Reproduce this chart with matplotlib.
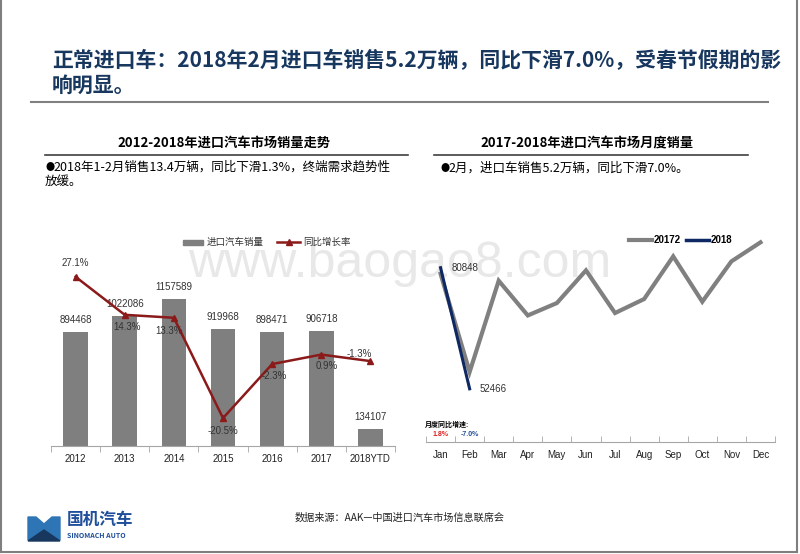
import matplotlib
matplotlib.use("Agg")
import matplotlib.pyplot as plt
from matplotlib.patches import Polygon, Rectangle
from matplotlib.lines import Line2D

plt.rcParams['font.family'] = ['Noto Sans CJK SC', 'DejaVu Sans']

# ---- data ----
years = ['2012', '2013', '2014', '2015', '2016', '2017', '2018YTD']
sales = [894468, 1022086, 1157589, 919968, 898471, 906718, 134107]
growth = [27.1, 14.3, 13.3, -20.5, -2.3, 0.9, -1.3]

months = ['Jan', 'Feb', 'Mar', 'Apr', 'May', 'Jun', 'Jul', 'Aug', 'Sep', 'Oct', 'Nov', 'Dec']
m2017 = [79418, 56415, 77800, 69660, 72570, 80220, 70230, 73510, 83500, 72880, 82330, 86790]
m2018 = [80848, 52466]
m_yoy = ['1.8%', '-7.0%']

W, H = 800, 554
fig = plt.figure(figsize=(8, 5.54), dpi=100)
fig.patch.set_facecolor('white')


def fx(x):
    return x / W


def fy(y):
    return 1 - y / H


def box(x0, y0, x1, y1):
    return [fx(x0), fy(y1), (x1 - x0) / W, (y1 - y0) / H]


navy = '#17375E'
num_font = ['Liberation Sans', 'Noto Sans CJK SC']

# slide frame
for xs, ys in [((1, 1), (0, 552)), ((797, 797), (0, 552)), ((1, 797), (552, 552))]:
    fig.add_artist(Line2D([fx(v) for v in xs], [fy(v) for v in ys], color='#7F7F7F', lw=1.5))

# headline
fig.text(fx(52), fy(61), '正常进口车：2018年2月进口车销售5.2万辆，同比下滑7.0%，受春节假期的影',
         fontsize=15, fontweight='bold', color=navy, va='center', ha='left')
fig.text(fx(52), fy(85), '响明显。', fontsize=15, fontweight='bold', color=navy, va='center', ha='left')
fig.add_artist(Line2D([fx(31), fx(768)], [fy(102), fy(102)], color='#808080', lw=1.5))

# section headers
fig.text(fx(224), fy(143), '2012-2018年进口汽车市场销量走势', fontsize=9.5, fontweight='bold',
         ha='center', va='center')
fig.add_artist(Line2D([fx(45), fx(408)], [fy(155), fy(155)], color='#404040', lw=1.2))
fig.text(fx(45), fy(167), '●', fontsize=6.5, ha='left', va='center')
fig.text(fx(53), fy(167), '2018年1-2月销售13.4万辆，同比下滑1.3%，终端需求趋势性',
         fontsize=9, ha='left', va='center')
fig.text(fx(45), fy(181), '放缓。', fontsize=9, ha='left', va='center')

fig.text(fx(587), fy(143), '2017-2018年进口汽车市场月度销量', fontsize=9.5, fontweight='bold',
         ha='center', va='center')
fig.add_artist(Line2D([fx(434), fx(748)], [fy(155), fy(155)], color='#404040', lw=1.2))
fig.text(fx(440), fy(168), '●', fontsize=6.5, ha='left', va='center')
fig.text(fx(448), fy(168), '2月，进口车销售5.2万辆，同比下滑7.0%。', fontsize=9, ha='left', va='center')

# watermark
fig.text(fx(400), fy(264), 'www.baogao8.com', fontsize=36, color='#E8E8E8', ha='center',
         va='center', family=num_font, zorder=-1)

# ---- left chart ----
ax = fig.add_axes(box(51, 240, 395, 446))
ax.patch.set_alpha(0)
x = range(len(years))
ax.bar(x, sales, width=0.5, color='#7F7F7F', zorder=2)
ax.set_xlim(-0.5, len(years) - 0.5)
ax.set_ylim(0, 1620000)
for i, v in enumerate(sales):
    ax.text(i, v + 55000, str(v), ha='center', va='bottom', fontsize=7, color='#333333',
            family=num_font, zorder=5)
for s in ['top', 'right', 'left']:
    ax.spines[s].set_visible(False)
ax.spines['bottom'].set_color('#A6A6A6')
ax.set_yticks([])
ax.set_xticks(x)
ax.set_xticklabels(years, fontsize=7, family=num_font, color='#222222')
ax.tick_params(axis='x', length=0, pad=6)
ax.set_xticks([i - 0.5 for i in range(len(years) + 1)], minor=True)
ax.tick_params(axis='x', which='minor', length=4, color='#A6A6A6', direction='out')

ax2 = ax.twinx()
ax2.patch.set_alpha(0)
ax2.plot(x, growth, color='#8B1A1A', lw=1.8, marker='^', markersize=5, zorder=4)
ax2.set_ylim(-29.9, 39.5)
ax2.axis('off')
# label offsets (x in categories, y in percent points)
lab_dx = [0, 0.05, -0.1, 0, 0.05, 0.12, -0.22]
lab_dy = [4.7, -4.0, -4.6, -4.3, -4.0, -4.0, 2.4]
for i, v in enumerate(growth):
    ax2.text(i + lab_dx[i], v + lab_dy[i], f'{v:.1f}%', ha='center', va='center',
             fontsize=7, color='#333333', family=num_font, zorder=6)

# left legend
fig.add_artist(Rectangle((fx(183), fy(245)), 20 / W, 5 / H, color='#7F7F7F'))
fig.text(fx(207), fy(242), '进口汽车销量', fontsize=6.8, ha='left', va='center', color='#333333')
fig.add_artist(Line2D([fx(277), fx(300)], [fy(242), fy(242)], color='#8B1A1A', lw=1.8))
fig.add_artist(Line2D([fx(288.5)], [fy(242)], color='#8B1A1A', marker='^', markersize=4, lw=0))
fig.text(fx(303), fy(242), '同比增长率', fontsize=6.8, ha='left', va='center', color='#333333')

# ---- right chart ----
bx = fig.add_axes(box(426, 186, 775, 442))
bx.patch.set_alpha(0)
mx = range(len(months))
bx.plot(mx, m2017, color='#808080', lw=3, solid_joinstyle='miter', zorder=2)
bx.plot(range(len(m2018)), m2018, color='#0E2863', lw=2.2, zorder=3)
bx.set_xlim(-0.5, len(months) - 0.5)
bx.set_ylim(40000, 100000)
bx.text(0.38, m2018[0], str(m2018[0]), ha='left', va='center', fontsize=7, family=num_font, color='#333333')
bx.text(1.35, m2018[1], str(m2018[1]), ha='left', va='center', fontsize=7, family=num_font, color='#333333')
for s in ['top', 'right', 'left']:
    bx.spines[s].set_visible(False)
bx.spines['bottom'].set_color('#A6A6A6')
bx.set_yticks([])
bx.set_xticks(mx)
bx.set_xticklabels(months, fontsize=7, family=num_font, color='#222222')
bx.tick_params(axis='x', length=0, pad=6)
bx.set_xticks([i - 0.5 for i in range(len(months) + 1)], minor=True)
bx.tick_params(axis='x', which='minor', length=4, color='#A6A6A6', direction='in')

fig.text(fx(425), fy(424), '月度同比增速:', fontsize=5, fontweight='bold', ha='left', va='center')
for i, (t, c) in enumerate(zip(m_yoy, ['#E02020', '#1F4E9A'])):
    bx.text(i, 0.015, t, transform=bx.get_xaxis_transform(), ha='center', va='bottom',
            fontsize=5, fontweight='bold', color=c, family=num_font)

# right legend
fig.add_artist(Line2D([fx(629), fx(652)], [fy(240), fy(240)], color='#808080', lw=3))
fig.text(fx(654), fy(240), '20172', fontsize=7, fontweight='bold', ha='left', va='center', family=num_font)
fig.add_artist(Line2D([fx(686), fx(709)], [fy(240), fy(240)], color='#0E2863', lw=2.5))
fig.text(fx(711), fy(240), '2018', fontsize=7, fontweight='bold', ha='left', va='center', family=num_font)

# footer
fig.add_artist(Polygon([(fx(28), fy(540)), (fx(28), fy(517)), (fx(36), fy(517)), (fx(44), fy(524)),
                        (fx(52), fy(517)), (fx(60), fy(517)), (fx(60), fy(540))],
                       closed=True, color='#2E75B6'))
fig.add_artist(Polygon([(fx(28), fy(541)), (fx(44), fy(530)), (fx(60), fy(541))],
                       closed=True, color='#17375E'))
fig.text(fx(67), fy(520), '国机汽车', fontsize=12, fontweight='bold', color='#1F4E9A', ha='left', va='center')
fig.text(fx(67), fy(535), 'SINOMACH AUTO', fontsize=5, fontweight='bold', color='#1F4E9A', ha='left', va='center')
fig.text(fx(400), fy(518), '数据来源：AAK—中国进口汽车市场信息联席会', fontsize=7.3,
         ha='center', va='center', color='#222222')

fig.savefig('out.png', dpi=100)
